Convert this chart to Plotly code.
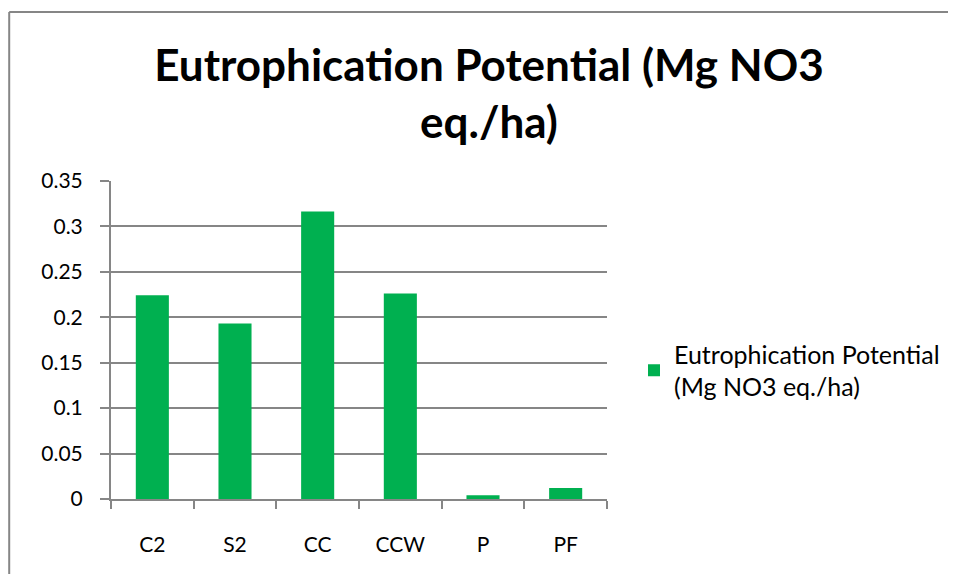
import plotly.graph_objects as go

categories = ["C2", "S2", "CC", "CCW", "P", "PF"]
values = [0.2243, 0.1931, 0.3165, 0.2262, 0.004, 0.0121]
series_name = "Eutrophication Potential<br>(Mg NO3 eq./ha)"
title_text = "Eutrophication Potential (Mg NO3<br>eq./ha)"
y_ticks = [0, 0.05, 0.1, 0.15, 0.2, 0.25, 0.3, 0.35]
y_labels = ["0", "0.05", "0.1", "0.15", "0.2", "0.25", "0.3", "0.35"]

GREEN = "#00B050"
GRID = "#868686"
FONT = "Lato"

# page body has an 8px margin; figure is shrunk (no scrollbars) and offsets compensate
FW, FH = 948, 566
L, T, W, H = 103, 173, 497, 318

fig = go.Figure()
fig.add_trace(go.Bar(x=categories, y=values, name=series_name,
                     marker=dict(color=GREEN, line=dict(width=0)),
                     showlegend=True))

bx0 = (1 - L) / W
by1 = 1.0 + (T - 4) / H
fig.update_layout(
    width=FW, height=FH,
    paper_bgcolor="white", plot_bgcolor="white",
    margin=dict(l=L, r=FW - L - W, t=T, b=FH - T - H),
    font=dict(family=FONT, size=21, color="black"),
    title=dict(text=title_text, x=481 / FW, xanchor="center", y=1 - 72.75 / FH,
               yanchor="middle",
               font=dict(family=FONT, size=44, color="black", weight="bold")),
    bargap=0.6,
    showlegend=True,
    legend=dict(x=(654 - 8 - 20 - L) / W, xanchor="left", y=0.405, yanchor="middle",
                font=dict(family=FONT, size=25, color="black"),
                itemwidth=30, bgcolor="rgba(0,0,0,0)"),
    xaxis=dict(showline=True, linecolor=GRID, linewidth=2, ticks="outside",
               tickson="boundaries", ticklen=8, tickcolor=GRID, tickwidth=2,
               showgrid=False, ticklabelstandoff=26),
    yaxis=dict(range=[0, 0.35], tickvals=y_ticks, ticktext=y_labels,
               showline=True, linecolor=GRID, linewidth=2, ticks="outside",
               ticklen=9, tickcolor=GRID, tickwidth=2,
               showgrid=True, gridcolor=GRID, gridwidth=2, zeroline=False,
               ticklabelstandoff=13),
    shapes=[
        dict(type="line", xref="paper", yref="paper", x0=bx0, x1=bx0, y0=-0.5, y1=by1,
             line=dict(color=GRID, width=2), layer="below"),
        dict(type="line", xref="paper", yref="paper", x0=bx0, x1=1.8, y0=by1, y1=by1,
             line=dict(color=GRID, width=2), layer="below"),
    ],
)

fig.write_html("out.html")
